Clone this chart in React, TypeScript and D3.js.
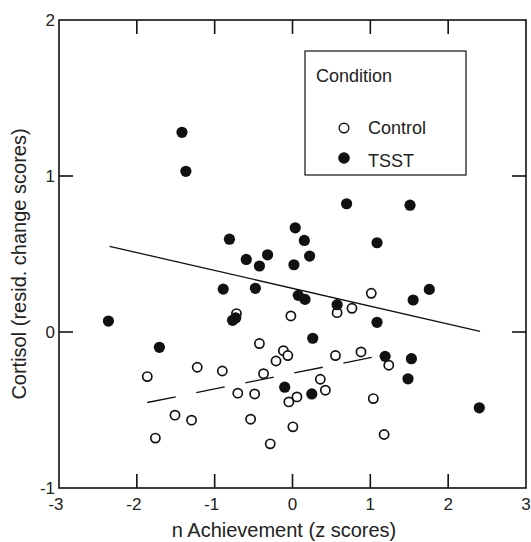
import React from "react";
import * as d3 from "d3";

const xTicks = [-3, -2, -1, 0, 1, 2, 3];
const yTicks = [-1, 0, 1, 2];

const tsstX = [-1.42, -1.37, 0.695, 1.51, 0.035, -0.81, 0.152, 1.086, -0.594, -0.32, 0.22, -0.425, 0.018, -0.89, -0.477, 1.758, 0.074, 0.161, 1.55, 0.573, -2.365, -0.77, -0.73, 1.086, 0.26, -1.71, 1.19, 1.528, 1.484, -0.1, 0.248, 2.4];
const tsstY = [1.28, 1.03, 0.822, 0.813, 0.668, 0.595, 0.587, 0.572, 0.465, 0.495, 0.487, 0.423, 0.431, 0.275, 0.28, 0.273, 0.235, 0.209, 0.205, 0.175, 0.07, 0.075, 0.09, 0.062, -0.04, -0.098, -0.156, -0.171, -0.3, -0.354, -0.397, -0.486];

const controlX = [1.012, 0.764, 0.573, -0.021, -0.72, -0.425, -0.117, 0.88, -0.06, 0.552, -0.212, 1.237, -1.224, -0.902, -1.866, -0.372, 0.357, 0.422, -0.703, -0.486, 0.057, -0.047, 1.038, -1.51, -1.297, -0.538, 0.005, -1.762, 1.177, -0.286];
const controlY = [0.248, 0.152, 0.124, 0.103, 0.118, -0.074, -0.12, -0.128, -0.151, -0.151, -0.186, -0.213, -0.226, -0.25, -0.286, -0.267, -0.303, -0.373, -0.392, -0.397, -0.416, -0.448, -0.427, -0.533, -0.565, -0.559, -0.608, -0.68, -0.657, -0.717];

const tsstLineX = [-2.35, 2.41];
const tsstLineY = [0.549, 0.004];
const controlLineX = [-1.866, 1.086];
const controlLineY = [-0.452, -0.156];

const W = 531;
const H = 542;
const left = 59;
const right = 526;
const top = 20;
const bottom = 488;
const font = "'Liberation Sans', Arial, sans-serif";

export default function App() {
  const x = d3.scaleLinear().domain([-3, 3]).range([left, right]);
  const y = d3.scaleLinear().domain([-1, 2]).range([bottom, top]);
  const line = d3
    .line<[number, number]>()
    .x((d) => x(d[0]))
    .y((d) => y(d[1]));
  const tick = 14;
  const tsstLine = tsstLineX.map((v, i) => [v, tsstLineY[i]] as [number, number]);
  const ctlLine = controlLineX.map((v, i) => [v, controlLineY[i]] as [number, number]);

  return (
    <svg width={W} height={H} style={{ position: "absolute", left: 0, top: 0, background: "#fff" }}>
      <rect x={0} y={0} width={W} height={H} fill="#fff" />
      {/* frame */}
      <rect x={left} y={top} width={right - left} height={bottom - top} fill="none" stroke="#111" strokeWidth={1.6} />
      {/* ticks */}
      {xTicks.slice(1, -1).map((t) => (
        <g key={"xt" + t}>
          <line x1={x(t)} x2={x(t)} y1={bottom} y2={bottom - tick} stroke="#111" strokeWidth={1.6} />
          <line x1={x(t)} x2={x(t)} y1={top} y2={top + tick} stroke="#111" strokeWidth={1.6} />
        </g>
      ))}
      {yTicks.slice(1, -1).map((t) => (
        <g key={"yt" + t}>
          <line x1={left} x2={left + tick} y1={y(t)} y2={y(t)} stroke="#111" strokeWidth={1.6} />
          <line x1={right} x2={right - tick} y1={y(t)} y2={y(t)} stroke="#111" strokeWidth={1.6} />
        </g>
      ))}
      {xTicks.map((t) => (
        <text key={"xl" + t} x={x(t) - (t < 0 ? 3 : 0)} y={510} textAnchor="middle" fontFamily={font} fontSize={17} fill="#222">
          {t}
        </text>
      ))}
      {yTicks.map((t) => (
        <text key={"yl" + t} x={left - 4} y={y(t)} dy="0.36em" textAnchor="end" fontFamily={font} fontSize={17} fill="#222">
          {t}
        </text>
      ))}
      <text x={284} y={537} textAnchor="middle" fontFamily={font} fontSize={20} fill="#222">
        n Achievement (z scores)
      </text>
      <text
        transform={`translate(26,264) rotate(-90)`}
        textAnchor="middle"
        fontFamily={font}
        fontSize={20}
        fill="#222"
      >
        Cortisol (resid. change scores)
      </text>
      {/* points */}
      {controlX.map((v, i) => (
        <circle key={"c" + i} cx={x(v)} cy={y(controlY[i])} r={4.6} fill="#fff" stroke="#111" strokeWidth={1.7} />
      ))}
      {tsstX.map((v, i) => (
        <circle key={"t" + i} cx={x(v)} cy={y(tsstY[i])} r={5.6} fill="#111" />
      ))}
      {/* fit lines */}
      <path d={line(tsstLine) || ""} fill="none" stroke="#111" strokeWidth={1.3} />
      <path d={line(ctlLine) || ""} fill="none" stroke="#111" strokeWidth={1.3} strokeDasharray="29,21" />
      {/* legend */}
      <rect x={305} y={51} width={161} height={124} fill="#fff" stroke="#111" strokeWidth={1.2} />
      <text x={316} y={82} fontFamily={font} fontSize={18} fill="#222">
        Condition
      </text>
      <circle cx={344} cy={128} r={4.8} fill="#fff" stroke="#111" strokeWidth={1.4} />
      <text x={368} y={134} fontFamily={font} fontSize={18} fill="#222">
        Control
      </text>
      <circle cx={344} cy={158} r={5.8} fill="#111" />
      <text x={368} y={167} fontFamily={font} fontSize={18} fill="#222">
        TSST
      </text>
    </svg>
  );
}
